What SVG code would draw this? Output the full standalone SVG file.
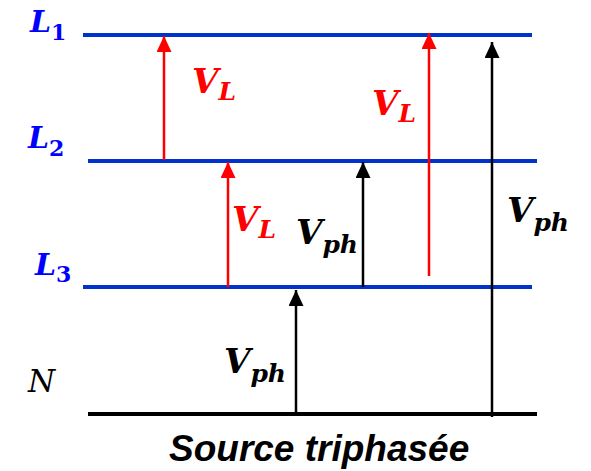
<svg xmlns="http://www.w3.org/2000/svg" width="591" height="471" viewBox="0 0 591 471">
<style>
.bus{stroke:#0033cc;stroke-width:4;fill:none}
.neu{stroke:#000;stroke-width:4;fill:none}
.red{stroke:#ff0000;stroke-width:2.5;fill:none}
.blk{stroke:#000;stroke-width:2.5;fill:none}
.lbl{font-family:"DejaVu Serif",serif;font-weight:bold;font-style:italic}
.lt{fill:#0000ff;font-size:30px}
.ls{font-size:22px;font-style:normal}
.vr{fill:#ff0000}
.vb{fill:#000}
.vm{font-size:34px}
.vs{font-size:25px}
.src{font-family:"Liberation Sans",Arial,sans-serif;font-weight:bold;font-style:italic;font-size:37px;fill:#000}
.n{font-family:"DejaVu Serif",serif;font-style:italic;font-size:31px;fill:#000}
</style>
<defs>
<marker id="ar" markerUnits="userSpaceOnUse" markerWidth="16" markerHeight="15" refX="16" refY="7.5" orient="auto"><path d="M0,0 L16,7.5 L0,15 z" fill="#ff0000"/></marker>
<marker id="ab" markerUnits="userSpaceOnUse" markerWidth="16" markerHeight="15" refX="16" refY="7.5" orient="auto"><path d="M0,0 L16,7.5 L0,15 z" fill="#000"/></marker>
</defs>
<g id="L1"><line class="bus" x1="83" y1="35" x2="532" y2="35"/><text class="lbl lt" x="30" y="32">L<tspan class="ls" dy="8">1</tspan></text></g>
<g id="L2"><line class="bus" x1="88" y1="161" x2="537" y2="161"/><text class="lbl lt" x="28" y="148">L<tspan class="ls" dy="8">2</tspan></text></g>
<g id="L3"><line class="bus" x1="83" y1="287" x2="532" y2="287"/><text class="lbl lt" x="35" y="275">L<tspan class="ls" dy="7">3</tspan></text></g>
<g id="N"><line class="neu" x1="88" y1="414" x2="537" y2="414"/><text class="n" x="28" y="392">N</text></g>
<g id="connectors">
<line class="red" x1="164" y1="160" x2="164" y2="36" marker-end="url(#ar)"/>
<line class="red" x1="228" y1="287" x2="228" y2="162" marker-end="url(#ar)"/>
<line class="red" x1="429" y1="276" x2="429" y2="33" marker-end="url(#ar)"/>
<line class="blk" x1="363" y1="287" x2="363" y2="162" marker-end="url(#ab)"/>
<line class="blk" x1="296" y1="414" x2="296" y2="290" marker-end="url(#ab)"/>
<line class="blk" x1="492" y1="417" x2="492" y2="42" marker-end="url(#ab)"/>
</g>
<g id="labels">
<text class="lbl vr vm" x="192" y="93">V<tspan class="vs" dy="7">L</tspan></text>
<text class="lbl vr vm" x="372" y="115">V<tspan class="vs" dy="7">L</tspan></text>
<text class="lbl vr vm" x="232" y="231">V<tspan class="vs" dy="7">L</tspan></text>
<text class="lbl vb vm" x="296" y="244">V<tspan class="vs" dy="9">ph</tspan></text>
<text class="lbl vb vm" x="507" y="222">V<tspan class="vs" dy="9">ph</tspan></text>
<text class="lbl vb vm" x="224" y="373">V<tspan class="vs" dy="9">ph</tspan></text>
</g>
<text id="source" class="src" x="169" y="461">Source triphasée</text>
</svg>
